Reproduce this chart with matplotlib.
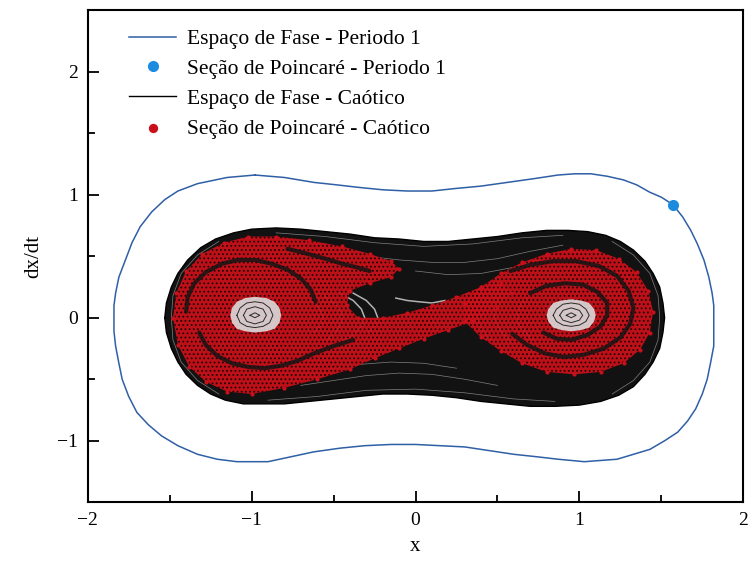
import matplotlib.pyplot as plt
from matplotlib.ticker import MultipleLocator

plt.rcParams['font.family'] = ['Liberation Serif', 'DejaVu Serif']
plt.rcParams['hatch.linewidth'] = 0.8

# period-1 orbit (x, dx/dt), one full loop
p1_x = [-0.98, -1.15, -1.33, -1.45, -1.53, -1.61, -1.68, -1.73, -1.77, -1.81, -1.83,
        -1.84, -1.84, -1.84, -1.83, -1.81, -1.79, -1.75, -1.70, -1.63, -1.55, -1.45,
        -1.33, -1.21, -1.09, -0.90, -0.76, -0.62, -0.46, -0.31, -0.15, 0.00, 0.15,
        0.30, 0.45, 0.60, 0.74, 0.87, 1.03, 1.13, 1.23, 1.33, 1.43, 1.52, 1.60, 1.66,
        1.71, 1.75, 1.78, 1.80, 1.82, 1.82, 1.82, 1.82, 1.81, 1.79, 1.76, 1.72, 1.68,
        1.63, 1.57, 1.50, 1.43, 1.35, 1.27, 1.17, 1.07, 0.97, 0.87, 0.72, 0.56, 0.40,
        0.24, 0.10, -0.05, -0.20, -0.35, -0.48, -0.62, -0.80, -0.98]
p1_v = [1.16, 1.14, 1.09, 1.03, 0.96, 0.86, 0.74, 0.61, 0.47, 0.33, 0.20,
        0.10, 0.01, -0.11, -0.23, -0.37, -0.50, -0.64, -0.77, -0.87, -0.96, -1.04,
        -1.11, -1.15, -1.17, -1.17, -1.13, -1.09, -1.06, -1.04, -1.03, -1.03, -1.04,
        -1.05, -1.08, -1.11, -1.13, -1.15, -1.17, -1.16, -1.15, -1.11, -1.07, -1.00,
        -0.93, -0.84, -0.74, -0.62, -0.50, -0.37, -0.23, -0.11, 0.01, 0.10, 0.20, 0.33,
        0.47, 0.60, 0.71, 0.82, 0.92, 0.98, 1.02, 1.08, 1.12, 1.15, 1.17, 1.17, 1.16,
        1.13, 1.10, 1.07, 1.05, 1.03, 1.03, 1.04, 1.06, 1.08, 1.10, 1.14, 1.16]

# Poincare section of the period-1 orbit
p1_sec_x = [1.57]
p1_sec_v = [0.92]

# outer edge of the chaotic trajectory bundle
edge_x = [-1.53, -1.52, -1.49, -1.45, -1.39, -1.31, -1.22, -1.11, -1.00, -0.85, -0.70,
          -0.55, -0.40, -0.25, -0.10, 0.05, 0.20, 0.35, 0.50, 0.65, 0.80, 0.93, 1.05,
          1.16, 1.25, 1.33, 1.40, 1.45, 1.49, 1.51, 1.52, 1.51, 1.49, 1.45, 1.40, 1.33,
          1.24, 1.13, 1.00, 0.85, 0.70, 0.55, 0.40, 0.25, 0.10, -0.05, -0.20, -0.35,
          -0.50, -0.65, -0.80, -0.93, -1.05, -1.16, -1.25, -1.33, -1.40, -1.45, -1.49,
          -1.52, -1.53]
edge_v = [0.00, 0.12, 0.25, 0.36, 0.47, 0.57, 0.64, 0.69, 0.72, 0.73, 0.72,
          0.70, 0.68, 0.65, 0.64, 0.62, 0.62, 0.64, 0.66, 0.69, 0.71, 0.71, 0.70,
          0.67, 0.62, 0.55, 0.46, 0.36, 0.25, 0.12, 0.00, -0.12, -0.25, -0.36, -0.46,
          -0.56, -0.63, -0.68, -0.71, -0.72, -0.72, -0.70, -0.68, -0.65, -0.63, -0.62,
          -0.62, -0.64, -0.66, -0.68, -0.70, -0.70, -0.70, -0.67, -0.62, -0.55, -0.46,
          -0.36, -0.25, -0.12, 0.00]

# light streaks between neighbouring trajectories
streaks = [
    ([-0.85, -0.55, -0.25, 0.05, 0.35, 0.65, 0.90], [0.69, 0.66, 0.61, 0.58, 0.60, 0.65, 0.67]),
    ([-0.30, -0.10, 0.10, 0.30, 0.50, 0.70, 0.90], [0.50, 0.47, 0.45, 0.45, 0.48, 0.54, 0.59]),
    ([0.00, 0.20, 0.40, 0.60, 0.75], [0.38, 0.35, 0.36, 0.41, 0.47]),
    ([-0.90, -0.60, -0.30, 0.00, 0.30, 0.60, 0.85], [-0.67, -0.64, -0.59, -0.58, -0.61, -0.66, -0.68]),
    ([-0.70, -0.50, -0.30, -0.10, 0.10, 0.30, 0.50], [-0.55, -0.51, -0.47, -0.45, -0.46, -0.50, -0.55]),
    ([-0.55, -0.35, -0.15, 0.05, 0.25], [-0.42, -0.38, -0.36, -0.37, -0.41]),
    ([1.20, 1.33, 1.43, 1.48, 1.49, 1.48, 1.43, 1.33, 1.20],
     [0.62, 0.51, 0.36, 0.18, 0.00, -0.18, -0.36, -0.51, -0.62]),
    ([-1.20, -1.33, -1.43, -1.48, -1.49, -1.48, -1.43, -1.33, -1.20],
     [0.62, 0.51, 0.36, 0.18, 0.00, -0.18, -0.36, -0.51, -0.62]),
]

# open arcs in the crossing region
arcs = [
    ([-0.46, -0.38, -0.33, -0.31, -0.33, -0.38, -0.46], [0.20, 0.14, 0.07, 0.00, -0.07, -0.14, -0.20]),
    ([-0.38, -0.30, -0.25, -0.23, -0.25, -0.29], [0.20, 0.14, 0.07, 0.00, -0.07, -0.12]),
    ([-0.56, -0.49, -0.45, -0.45, -0.48, -0.54], [0.18, 0.11, 0.04, -0.04, -0.11, -0.18]),
    ([-0.64, -0.58, -0.56, -0.58, -0.63], [0.14, 0.07, 0.00, -0.07, -0.13]),
    ([-0.12, -0.05, 0.02, 0.10, 0.18], [0.16, 0.14, 0.13, 0.12, 0.14]),
    ([0.46, 0.41, 0.38, 0.38, 0.41, 0.46], [0.22, 0.15, 0.07, -0.03, -0.11, -0.18]),
    ([0.55, 0.50, 0.48, 0.49, 0.53, 0.58], [0.22, 0.14, 0.05, -0.04, -0.12, -0.20]),
    ([0.68, 0.64, 0.62, 0.63, 0.67, 0.72], [0.16, 0.09, 0.02, -0.05, -0.12, -0.18]),
]

# quiet cores around the two wells
hole_l_x = [-1.13, -1.12, -1.09, -1.04, -0.98, -0.91, -0.86, -0.83, -0.82, -0.83, -0.86,
            -0.91, -0.98, -1.04, -1.09, -1.12, -1.13]
hole_l_v = [0.02, 0.08, 0.13, 0.16, 0.17, 0.16, 0.13, 0.08, 0.02, -0.04, -0.09,
            -0.11, -0.12, -0.11, -0.09, -0.04, 0.02]
hole_r_x = [0.80, 0.81, 0.84, 0.89, 0.95, 1.01, 1.06, 1.09, 1.10, 1.09, 1.06,
            1.01, 0.95, 0.89, 0.84, 0.81, 0.80]
hole_r_v = [0.02, 0.07, 0.12, 0.14, 0.15, 0.14, 0.12, 0.07, 0.02, -0.03, -0.08,
            -0.10, -0.11, -0.10, -0.08, -0.03, 0.02]
rings = [
    ([-1.09, -1.07, -1.03, -0.98, -0.93, -0.89, -0.87, -0.89, -0.93, -0.98, -1.03, -1.07, -1.09],
     [0.02, 0.08, 0.12, 0.13, 0.12, 0.08, 0.02, -0.04, -0.07, -0.08, -0.07, -0.04, 0.02]),
    ([-1.05, -1.03, -0.98, -0.93, -0.91, -0.93, -0.98, -1.03, -1.05],
     [0.02, 0.07, 0.09, 0.07, 0.02, -0.03, -0.05, -0.03, 0.02]),
    ([-1.01, -0.98, -0.95, -0.98, -1.01], [0.02, 0.04, 0.02, 0.00, 0.02]),
    ([0.84, 0.86, 0.90, 0.95, 1.00, 1.04, 1.06, 1.04, 1.00, 0.95, 0.90, 0.86, 0.84],
     [0.02, 0.07, 0.11, 0.12, 0.11, 0.07, 0.02, -0.03, -0.06, -0.07, -0.06, -0.03, 0.02]),
    ([0.88, 0.90, 0.95, 1.00, 1.02, 1.00, 0.95, 0.90, 0.88],
     [0.02, 0.06, 0.08, 0.06, 0.02, -0.02, -0.04, -0.02, 0.02]),
    ([0.92, 0.95, 0.98, 0.95, 0.92], [0.02, 0.04, 0.02, 0.00, 0.02]),
]

# Poincare section of the chaotic motion: occupied regions
sec_l_x = [-1.48, -1.46, -1.40, -1.30, -1.17, -1.02, -0.85, -0.65, -0.45, -0.28, -0.15,
           -0.10, -0.15, -0.28, -0.40, -0.42, -0.35, -0.20, -0.05, 0.10, 0.25, 0.40, 0.52,
           0.58, 0.50, 0.35, 0.20, 0.05, -0.10, -0.25, -0.40, -0.60, -0.80, -1.00, -1.15,
           -1.28, -1.38, -1.45, -1.48]
sec_l_v = [0.00, 0.20, 0.38, 0.52, 0.61, 0.66, 0.66, 0.63, 0.58, 0.52, 0.46,
           0.40, 0.33, 0.28, 0.22, 0.10, 0.00, 0.00, 0.04, 0.10, 0.17, 0.25, 0.28,
           0.20, 0.08, -0.03, -0.10, -0.17, -0.25, -0.33, -0.42, -0.50, -0.57, -0.62, -0.60,
           -0.52, -0.40, -0.22, 0.00]
sec_r_x = [0.30, 0.40, 0.52, 0.65, 0.80, 0.95, 1.10, 1.24, 1.35, 1.42, 1.45, 1.43, 1.37,
           1.27, 1.13, 0.97, 0.80, 0.65, 0.52, 0.40, 0.30, 0.30]
sec_r_v = [0.12, 0.25, 0.36, 0.45, 0.52, 0.56, 0.55, 0.48, 0.37, 0.22, 0.05, -0.12, -0.26,
           -0.37, -0.44, -0.46, -0.44, -0.37, -0.27, -0.16, -0.03, 0.12]

# empty bands inside the section
gaps = [
    ([-1.40, -1.39, -1.35, -1.28, -1.18, -1.08, -0.98, -0.88, -0.78, -0.70, -0.64, -0.61],
     [0.05, 0.17, 0.28, 0.37, 0.44, 0.47, 0.47, 0.44, 0.39, 0.32, 0.23, 0.13]),
    ([-1.32, -1.28, -1.21, -1.12, -1.02, -0.92, -0.82, -0.72, -0.62, -0.50, -0.38],
     [-0.12, -0.22, -0.31, -0.37, -0.40, -0.41, -0.39, -0.35, -0.29, -0.23, -0.18]),
    ([-0.78, -0.66, -0.55, -0.45, -0.36, -0.28], [0.56, 0.52, 0.48, 0.44, 0.41, 0.38]),
    ([0.58, 0.70, 0.84, 0.98, 1.12, 1.23, 1.30, 1.33, 1.31, 1.25, 1.15, 1.03, 0.91, 0.79, 0.68, 0.59],
     [0.38, 0.43, 0.46, 0.46, 0.42, 0.34, 0.22, 0.08, -0.05, -0.16, -0.25, -0.30, -0.32, -0.29, -0.22, -0.13]),
    ([0.70, 0.80, 0.91, 1.02, 1.11, 1.17, 1.17, 1.13, 1.05, 0.95, 0.86, 0.78],
     [0.20, 0.26, 0.28, 0.27, 0.21, 0.12, 0.02, -0.07, -0.14, -0.18, -0.17, -0.12]),
]

fig, ax = plt.subplots(figsize=(7.5, 5.65), dpi=100)
fig.subplots_adjust(left=0.117, right=0.991, top=0.982, bottom=0.111)

blue_line = '#2f5fa6'
blue_dot = '#1b8be0'
red = '#c8101a'

line_p1, = ax.plot(p1_x, p1_v, color=blue_line, lw=1.1, zorder=6,
                   solid_joinstyle='round', label='Espaço de Fase - Periodo 1')
dot_p1, = ax.plot(p1_sec_x, p1_sec_v, 'o', color=blue_dot, ms=7, zorder=7,
                  label='Seção de Poincaré - Periodo 1')

# chaotic phase space
ax.fill(edge_x, edge_v, color='#121212', lw=0, zorder=1)
line_ch, = ax.plot(edge_x, edge_v, color='black', lw=1.0, zorder=2,
                   solid_joinstyle='round', label='Espaço de Fase - Caótico')
for sx, sv in streaks:
    ax.plot(sx, sv, color='#c8c8c8', lw=0.5, alpha=0.6, zorder=2)
for sx, sv in arcs:
    ax.plot(sx, sv, color='#e8e8e8', lw=1.1, alpha=0.75, zorder=2)

# chaotic Poincare section
for sx, sv in [(sec_l_x, sec_l_v), (sec_r_x, sec_r_v)]:
    ax.fill(sx, sv, facecolor=red, edgecolor='#1a0000', hatch='....', lw=0,
            alpha=0.95, zorder=3)
for sx, sv in gaps:
    ax.plot(sx, sv, color='#151515', lw=3, alpha=0.85, solid_capstyle='round',
            solid_joinstyle='round', zorder=4)
dot_ch = ax.scatter(sec_l_x + sec_r_x, sec_l_v + sec_r_v, s=9, color=red, lw=0,
                    zorder=4, label='Seção de Poincaré - Caótico')

for hx, hv in [(hole_l_x, hole_l_v), (hole_r_x, hole_r_v)]:
    ax.fill(hx, hv, color='#dcdcdc', lw=0, alpha=0.9, zorder=5)
for rx, rv in rings:
    ax.plot(rx, rv, color='#2a2a2a', lw=0.7, zorder=5)

ax.set_xlim(-2, 2)
ax.set_ylim(-1.5, 2.5)
ax.xaxis.set_major_locator(MultipleLocator(1))
ax.xaxis.set_minor_locator(MultipleLocator(0.5))
ax.yaxis.set_major_locator(MultipleLocator(1))
ax.yaxis.set_minor_locator(MultipleLocator(0.5))
ax.tick_params(which='both', direction='in', top=False, right=False, width=1.3,
               labelsize=14)
ax.tick_params(which='major', length=8, pad=7)
ax.tick_params(which='minor', length=5)
for sp in ax.spines.values():
    sp.set_linewidth(1.5)

ax.set_xlabel('x', fontsize=15, labelpad=6)
ax.set_ylabel('dx/dt', fontsize=15, labelpad=10)

leg = ax.legend(handles=[line_p1, dot_p1, line_ch, dot_ch], loc='upper left',
                frameon=False, fontsize=15.5, handlelength=2.2, handletextpad=0.5,
                labelspacing=0.45, borderaxespad=0.3, bbox_to_anchor=(0.04, 0.992))
leg.legend_handles[3].set_sizes([45])

fig.savefig('out.png', dpi=100)
